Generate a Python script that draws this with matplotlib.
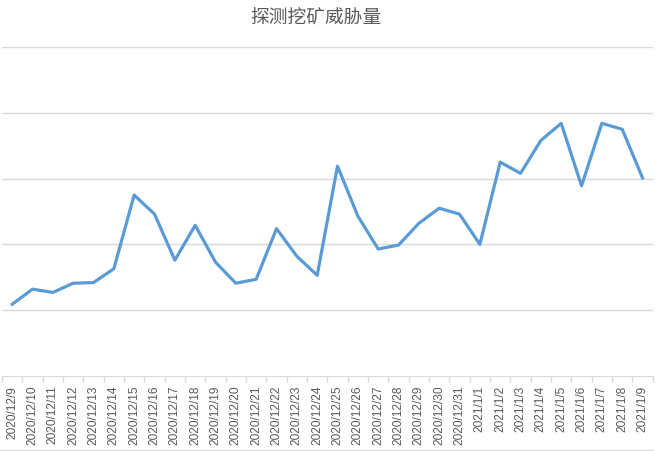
import matplotlib.pyplot as plt
from matplotlib.lines import Line2D

plt.rcParams['font.family'] = ['Noto Sans CJK SC', 'DejaVu Sans']

dates = ['2020/12/9', '2020/12/10', '2020/12/11', '2020/12/12', '2020/12/13',
         '2020/12/14', '2020/12/15', '2020/12/16', '2020/12/17', '2020/12/18',
         '2020/12/19', '2020/12/20', '2020/12/21', '2020/12/22', '2020/12/23',
         '2020/12/24', '2020/12/25', '2020/12/26', '2020/12/27', '2020/12/28',
         '2020/12/29', '2020/12/30', '2020/12/31', '2021/1/1', '2021/1/2',
         '2021/1/3', '2021/1/4', '2021/1/5', '2021/1/6', '2021/1/7',
         '2021/1/8', '2021/1/9']
counts = [109, 132, 127, 141, 142, 163, 275, 246, 176, 229,
          173, 141, 147, 224, 182, 153, 319, 243, 193, 199,
          232, 255, 246, 200, 325, 308, 358, 384, 289, 384,
          375, 301]
title = '探测挖矿威胁量'

fig = plt.figure(figsize=(6.63, 4.51), dpi=100)
ax = fig.add_axes([2 / 663, 1 - 376 / 451, 650.7 / 663, 329 / 451])

x = list(range(len(dates)))
ax.plot(x, counts, color='#5B9BD5', lw=2.3, solid_joinstyle='round')

ax.set_xlim(-0.5, len(dates) - 0.5)
ax.set_ylim(0, 500)
ax.set_yticks([100, 200, 300, 400, 500])
ax.yaxis.grid(True, color='#d9d9d9', lw=1)
ax.set_axisbelow(True)
ax.tick_params(axis='y', left=False, labelleft=False)

ax.set_xticks(x)
ax.set_xticklabels(dates, rotation=90, fontsize=8.6, color='#595959',
                   family=['Liberation Sans', 'DejaVu Sans'], va='top')
ax.set_xticks([i - 0.5 for i in range(len(dates) + 1)], minor=True)
ax.tick_params(axis='x', which='major', length=0, pad=7)
ax.tick_params(axis='x', which='minor', length=4, color='#d9d9d9', width=1)

for s in ['top', 'right', 'left']:
    ax.spines[s].set_visible(False)
ax.spines['bottom'].set_color('#d9d9d9')

fig.text(316 / 663, 1 - 17 / 451, title, ha='center', va='center',
         fontsize=13.5, color='#595959')
fig.add_artist(Line2D([0, 653 / 663], [1 - 450 / 451] * 2,
                      color='#d9d9d9', lw=1, transform=fig.transFigure))

fig.savefig('out.png', dpi=100)
